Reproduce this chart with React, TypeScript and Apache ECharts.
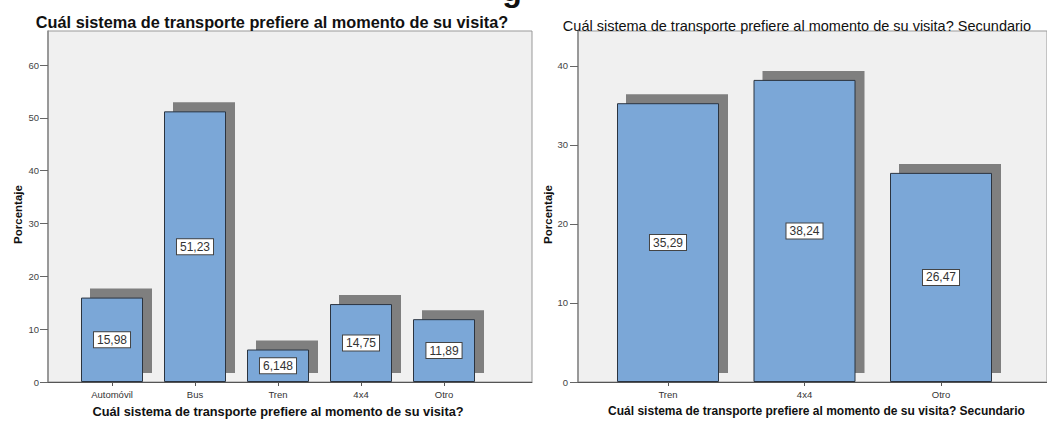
import React, { useEffect, useRef } from "react";
import * as echarts from "echarts";

const LEFT_CATEGORIES = ["Automóvil", "Bus", "Tren", "4x4", "Otro"];
const LEFT_VALUES = [15.98, 51.23, 6.148, 14.75, 11.89];
const LEFT_TICKS = [0, 10, 20, 30, 40, 50, 60];
const LEFT_MAX = 66.44;

const RIGHT_CATEGORIES = ["Tren", "4x4", "Otro"];
const RIGHT_VALUES = [35.29, 38.24, 26.47];
const RIGHT_TICKS = [0, 10, 20, 30, 40];
const RIGHT_MAX = 44.43;

const TITLE_LEFT = "Cuál sistema de transporte prefiere al momento de su visita?";
const TITLE_RIGHT = "Cuál sistema de transporte prefiere al momento de su visita? Secundario";
const Y_NAME = "Porcentaje";

const FONT = "'Liberation Sans', Arial, Helvetica, sans-serif";
const BAR_COLOR = "#7ba7d7";
const SHADOW_COLOR = "#7f7f7f";

function outerY(max: number, ticks: number[], tickLen: number, margin: number) {
  return {
    type: "value",
    min: 0,
    max,
    interval: 10,
    axisLine: { show: true, lineStyle: { color: "#888", width: 1.5 } },
    axisTick: { show: true, length: tickLen, customValues: ticks, lineStyle: { color: "#666", width: 1 } },
    axisLabel: {
      show: true,
      customValues: ticks,
      margin,
      fontSize: 9.5,
      color: "#444",
      fontFamily: FONT,
    },
    splitLine: { show: false },
    name: Y_NAME,
    nameLocation: "middle",
    nameRotate: 90,
    nameGap: 24,
    nameTextStyle: {
      fontSize: 11.5,
      fontWeight: "bold",
      color: "#111",
      fontFamily: FONT,
      padding: [0, 16, 0, 0],
    },
  };
}

function hiddenY(max: number, gridIndex: number) {
  return { type: "value", min: 0, max, gridIndex, show: false, splitLine: { show: false } };
}

function outerX(gridIndex: number) {
  return {
    type: "value",
    gridIndex,
    min: 0,
    max: 1,
    axisLine: { show: true, lineStyle: { color: "#555", width: 1 } },
    axisTick: { show: false },
    axisLabel: { show: false },
    splitLine: { show: false },
  };
}

function innerX(gridIndex: number, cats: string[], name: string, padLeft: number, size: number) {
  return {
    type: "category",
    gridIndex,
    data: cats,
    boundaryGap: true,
    axisLine: { show: false },
    axisTick: { show: true, alignWithLabel: true, length: 4, lineStyle: { color: "#555" } },
    axisLabel: { fontSize: 9.5, color: "#333", margin: 7, fontFamily: FONT },
    splitLine: { show: false },
    name,
    nameLocation: "middle",
    nameGap: 23,
    nameTextStyle: {
      fontSize: size,
      fontWeight: "bold",
      color: "#111",
      fontFamily: FONT,
      padding: [0, 0, 0, padLeft],
    },
  };
}

function hiddenX(gridIndex: number, cats: string[]) {
  return { type: "category", gridIndex, data: cats, boundaryGap: true, show: false };
}

const labelFmt = (p: any) => String(p.value).replace(".", ",");

function mainBar(xi: number, yi: number, data: number[], width: number) {
  return {
    type: "bar",
    xAxisIndex: xi,
    yAxisIndex: yi,
    data,
    barWidth: width,
    z: 3,
    itemStyle: { color: BAR_COLOR, borderColor: "#2b3440", borderWidth: 1 },
    label: {
      show: true,
      position: "inside",
      formatter: labelFmt,
      backgroundColor: "#ffffff",
      borderColor: "#444",
      borderWidth: 1,
      padding: [2, 3, 1, 3],
      fontSize: 12,
      color: "#333",
      fontFamily: FONT,
    },
  };
}

function shadowBar(xi: number, yi: number, data: number[], width: number) {
  return {
    type: "bar",
    xAxisIndex: xi,
    yAxisIndex: yi,
    data,
    barWidth: width,
    z: 2,
    silent: true,
    itemStyle: { color: SHADOW_COLOR },
  };
}

export default function App() {
  const ref = useRef<HTMLDivElement>(null);
  useEffect(() => {
    document.body.style.margin = "0";
    if (!ref.current) return;
    const chart = echarts.init(ref.current, null, { renderer: "svg" });
    const option: any = {
      animation: false,
      backgroundColor: "#ffffff",
      textStyle: { fontFamily: FONT },
      title: [
        {
          text: TITLE_LEFT,
          left: 267,
          top: 9,
          textAlign: "center",
          textStyle: { fontSize: 16.3, fontWeight: "bold", color: "#111", fontFamily: FONT },
        },
        {
          text: TITLE_RIGHT,
          left: 792,
          top: 13,
          textAlign: "center",
          textStyle: { fontSize: 14.5, fontWeight: "normal", color: "#111", fontFamily: FONT },
        },
      ],
      graphic: [
        {
          type: "text",
          x: 512,
          y: -10,
          silent: true,
          style: {
            text: "g",
            fontSize: 32,
            fontWeight: "bold",
            fontFamily: FONT,
            fill: "#111",
            align: "center",
            verticalAlign: "middle",
          },
        },
      ],
      grid: [
        { left: 48, top: 31, width: 484, height: 351, show: true, backgroundColor: "#f0f0f0", borderColor: "#999", borderWidth: 1 },
        { left: 70.5, top: 31, width: 415, height: 351 },
        { left: 79.5, top: 22, width: 415, height: 351 },
        { left: 578, top: 31, width: 490, height: 351, show: true, backgroundColor: "#f0f0f0", borderColor: "#999", borderWidth: 1 },
        { left: 599.75, top: 31, width: 409.5, height: 351 },
        { left: 608.75, top: 22, width: 409.5, height: 351 },
      ],
      xAxis: [
        outerX(0),
        innerX(1, LEFT_CATEGORIES, TITLE_LEFT, 0, 12.8),
        hiddenX(2, LEFT_CATEGORIES),
        outerX(3),
        innerX(4, RIGHT_CATEGORIES, TITLE_RIGHT, 24, 12),
        hiddenX(5, RIGHT_CATEGORIES),
      ],
      yAxis: [
        { ...outerY(LEFT_MAX, LEFT_TICKS, 8, 9), gridIndex: 0 },
        hiddenY(LEFT_MAX, 1),
        hiddenY(LEFT_MAX, 2),
        { ...outerY(RIGHT_MAX, RIGHT_TICKS, 8, 10), gridIndex: 3 },
        hiddenY(RIGHT_MAX, 4),
        hiddenY(RIGHT_MAX, 5),
      ],
      series: [
        shadowBar(2, 2, LEFT_VALUES, 62),
        mainBar(1, 1, LEFT_VALUES, 62),
        shadowBar(5, 5, RIGHT_VALUES, 102),
        mainBar(4, 4, RIGHT_VALUES, 102),
      ],
    };
    chart.setOption(option);
    return () => chart.dispose();
  }, []);
  return <div ref={ref} style={{ width: 1047, height: 423 }} />;
}
